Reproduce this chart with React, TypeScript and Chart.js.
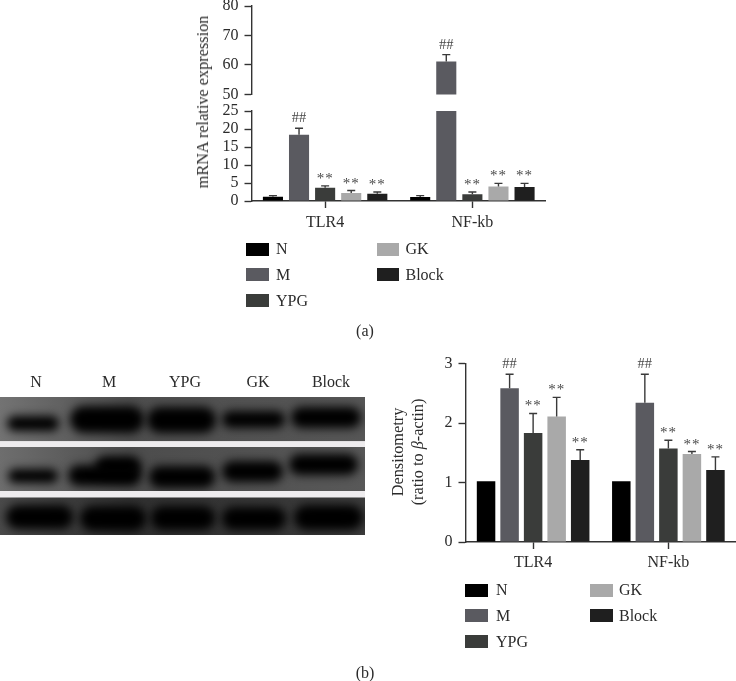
import React, { useEffect, useRef } from "react";
import { Chart, registerables } from "chart.js";

Chart.register(...registerables);

const FONT = '"Liberation Serif", serif';
const categories = ["TLR4", "NF-kb"];
const groups = ["N", "M", "YPG", "GK", "Block"];
const colors = ["#000000", "#5a5a60", "#3a3c3a", "#a9a9a9", "#1f1f1f"];

// Panel (a)
const aN = [1.2, 1.1];
const aM = [18.4, 61.2];
const aYPG = [3.7, 1.9];
const aGK = [2.2, 4.0];
const aBlock = [2.0, 3.9];
const aNErr = [1.5, 1.5];
const aMErr = [20.2, 63.5];
const aYPGErr = [4.2, 2.5];
const aGKErr = [2.9, 4.9];
const aBlockErr = [2.5, 4.9];
const aMarks = [["", ""], ["##", "##"], ["**", "**"], ["**", "**"], ["**", "**"]];

// Panel (b)
const bN = [1.02, 1.02];
const bM = [2.585, 2.34];
const bYPG = [1.83, 1.57];
const bGK = [2.11, 1.48];
const bBlock = [1.38, 1.21];
const bMErr = [2.82, 2.82];
const bYPGErr = [2.16, 1.71];
const bGKErr = [2.43, 1.52];
const bBlockErr = [1.55, 1.43];

const aValues = [aN, aM, aYPG, aGK, aBlock];
const aErrors = [aNErr, aMErr, aYPGErr, aGKErr, aBlockErr];
const bValues = [bN, bM, bYPG, bGK, bBlock];
const bErrors = [bN, bMErr, bYPGErr, bGKErr, bBlockErr];

const upperTicks = [50, 60, 70, 80];
const lowerTicks = [0, 5, 10, 15, 20, 25];
const bTicks = [0, 1, 2, 3];

const INK = "#333333";

const marksPlugin = {
  id: "marks",
  afterDatasetsDraw(chart: any, _a: any, opts: any) {
    const { ctx, scales } = chart;
    const y = scales.y;
    ctx.save();
    chart.data.datasets.forEach((_d: any, i: number) => {
      const meta = chart.getDatasetMeta(i);
      meta.data.forEach((bar: any, j: number) => {
        const top = opts.errors[i][j];
        const val = opts.values[i][j];
        if (top < y.min || top > y.max) return;
        if (top > val) {
          const yTop = y.getPixelForValue(top);
          const yVal = y.getPixelForValue(val);
          ctx.strokeStyle = "#3a3a3a";
          ctx.lineWidth = 1.4;
          ctx.beginPath();
          ctx.moveTo(bar.x, yVal);
          ctx.lineTo(bar.x, yTop);
          ctx.moveTo(bar.x - 4, yTop);
          ctx.lineTo(bar.x + 4, yTop);
          ctx.stroke();
        }
        const mark = opts.marks[i][j];
        if (mark) {
          const hash = mark === "##";
          ctx.fillStyle = "#484848";
          ctx.font = `${hash ? 14.5 : 15}px ${FONT}`;
          (ctx as any).letterSpacing = hash ? "0px" : "1px";
          ctx.textAlign = "center";
          ctx.textBaseline = "alphabetic";
          ctx.fillText(mark, bar.x, y.getPixelForValue(top) - (hash ? 6 : 3));
        }
      });
    });
    ctx.restore();
  },
};

function makeBars(
  canvas: HTMLCanvasElement,
  cfg: {
    values: number[][];
    errors: number[][];
    marks: string[][];
    min: number;
    max: number;
    ticks: number[];
    showX: boolean;
    yWidth: number;
    xHeight: number;
    padTop: number;
    padBottom: number;
    tickPadX: number;
    tickPadY: number;
    cat: number;
    bar: number;
  }
) {
  return new Chart(canvas, {
    type: "bar",
    data: {
      labels: categories,
      datasets: groups.map((g, i) => ({
        label: g,
        data: cfg.values[i],
        backgroundColor: colors[i],
        borderWidth: 0,
        categoryPercentage: cfg.cat,
        barPercentage: cfg.bar,
      })),
    },
    plugins: [marksPlugin],
    options: {
      animation: false,
      responsive: false,
      devicePixelRatio: 1,
      layout: { padding: { top: cfg.padTop, bottom: cfg.padBottom, left: 0, right: 0 } },
      plugins: {
        legend: { display: false },
        tooltip: { enabled: false },
        marks: { values: cfg.values, errors: cfg.errors, marks: cfg.marks },
      } as any,
      scales: {
        x: {
          display: cfg.showX,
          offset: true,
          afterFit: (s: any) => {
            s.height = cfg.xHeight;
          },
          grid: {
            offset: false,
            drawOnChartArea: false,
            drawTicks: true,
            tickLength: 7,
            tickColor: INK,
            tickWidth: 1.4,
          },
          border: { color: INK, width: 1.4 },
          ticks: { color: "#2b2b2b", font: { family: FONT, size: 16 }, maxRotation: 0, padding: cfg.tickPadX },
        },
        y: {
          min: cfg.min,
          max: cfg.max,
          afterFit: (s: any) => {
            s.width = cfg.yWidth;
          },
          afterBuildTicks: (s: any) => {
            s.ticks = cfg.ticks.map((v) => ({ value: v }));
          },
          grid: { drawOnChartArea: false, drawTicks: true, tickLength: 7, tickColor: INK, tickWidth: 1.4 },
          border: { color: INK, width: 1.4 },
          ticks: { color: "#2b2b2b", font: { family: FONT, size: 16 }, padding: cfg.tickPadY, autoSkip: false },
        },
      },
    } as any,
  });
}

// The gel photograph: x0, x1, y0, y1 of each dark band, by strip.
const strips = [
  { top: 397, h: 44.3, light: "#737373", mid: "#4e4e4e", end: "#565656" },
  { top: 447, h: 44, light: "#6e6e6e", mid: "#4c4c4c", end: "#585858" },
  { top: 497.3, h: 37.7, light: "#4a4a4a", mid: "#303030", end: "#3c3c3c" },
];
const bands = [
  [[7, 59, 416, 431], [70, 144, 406, 433], [147, 216, 407, 433], [222, 285, 411, 428], [291, 361, 407, 428]],
  [[8, 58, 469, 483], [68, 141, 465, 486], [95, 141, 456, 476], [149, 215, 466, 488], [222, 283, 461, 482], [289, 358, 454, 475]],
  [[6, 73, 505, 529], [80, 146, 506, 531], [151, 215, 506, 530], [222, 286, 507, 530], [294, 363, 505, 530]],
];

function drawBlot(canvas: HTMLCanvasElement) {
  const ctx = canvas.getContext("2d")!;
  ctx.fillStyle = "#eeecee";
  ctx.fillRect(0, 441, 365, 6);
  ctx.fillRect(0, 491, 365, 6.3);
  strips.forEach((s, idx) => {
    ctx.save();
    ctx.beginPath();
    ctx.rect(0, s.top, 365, s.h);
    ctx.clip();
    const g = ctx.createLinearGradient(0, 0, 365, 0);
    g.addColorStop(0, s.light);
    g.addColorStop(0.35, s.mid);
    g.addColorStop(1, s.end);
    ctx.fillStyle = g;
    ctx.fillRect(0, s.top, 365, s.h);
    ctx.filter = "blur(5px)";
    ctx.fillStyle = "#000000";
    bands[idx].forEach(([x0, x1, y0, y1]) => {
      ctx.beginPath();
      ctx.roundRect(x0, y0, x1 - x0, y1 - y0, (y1 - y0) / 2);
      ctx.fill();
    });
    ctx.restore();
  });
}

const abs = (left: number, top: number): React.CSSProperties => ({
  position: "absolute",
  left,
  top,
  font: `16px ${FONT}`,
  color: "#2b2b2b",
  whiteSpace: "nowrap",
  lineHeight: "16px",
});

function Legend({ x1, x2, t1, t2, rows }: { x1: number; x2: number; t1: number; t2: number; rows: number[] }) {
  const spots = [
    [x1, t1, rows[0]],
    [x1, t1, rows[1]],
    [x1, t1, rows[2]],
    [x2, t2, rows[0]],
    [x2, t2, rows[1]],
  ];
  return (
    <>
      {groups.map((g, i) => (
        <React.Fragment key={g}>
          <div
            style={{
              position: "absolute",
              left: spots[i][0],
              top: spots[i][2],
              width: 22.5,
              height: 13,
              background: colors[i],
            }}
          />
          <div style={abs(spots[i][1], spots[i][2] - 1.5)}>{g}</div>
        </React.Fragment>
      ))}
    </>
  );
}

const blotLabels: [string, number][] = [
  ["N", 36],
  ["M", 109],
  ["YPG", 185],
  ["GK", 258],
  ["Block", 331],
];

export default function App() {
  const upperRef = useRef<HTMLCanvasElement>(null);
  const lowerRef = useRef<HTMLCanvasElement>(null);
  const bRef = useRef<HTMLCanvasElement>(null);
  const blotRef = useRef<HTMLCanvasElement>(null);

  useEffect(() => {
    const upper = makeBars(upperRef.current!, {
      values: aValues,
      errors: aErrors,
      marks: aMarks,
      min: 50,
      max: 80,
      ticks: upperTicks,
      showX: false,
      yWidth: 71.5,
      xHeight: 0,
      padTop: 26,
      padBottom: 14,
      tickPadX: 5,
      tickPadY: 6,
      cat: 0.886,
      bar: 0.77,
    });
    const lower = makeBars(lowerRef.current!, {
      values: aValues,
      errors: aErrors,
      marks: aMarks,
      min: 0,
      max: 25,
      ticks: lowerTicks,
      showX: true,
      yWidth: 71.5,
      xHeight: 39,
      padTop: 21,
      padBottom: 0,
      tickPadX: 5,
      tickPadY: 6,
      cat: 0.886,
      bar: 0.77,
    });
    const b = makeBars(bRef.current!, {
      values: bValues,
      errors: bErrors,
      marks: aMarks,
      min: 0,
      max: 3,
      ticks: bTicks,
      showX: true,
      yWidth: 65.5,
      xHeight: 39,
      padTop: 23.5,
      padBottom: 0,
      tickPadX: 4,
      tickPadY: 6,
      cat: 0.87,
      bar: 0.786,
    });
    drawBlot(blotRef.current!);
    return () => {
      upper.destroy();
      lower.destroy();
      b.destroy();
    };
  }, []);

  const title: React.CSSProperties = { transform: "translate(-50%,-50%) rotate(-90deg)", fontSize: 16.3 };

  return (
    <div style={{ position: "absolute", left: 0, top: 0, width: 736, height: 681, overflow: "hidden", background: "#fff" }}>
      <canvas ref={blotRef} width={736} height={681} style={{ position: "absolute", left: 0, top: 0 }} />
      <canvas ref={upperRef} width={366} height={130} style={{ position: "absolute", left: 180, top: -20 }} />
      <canvas ref={lowerRef} width={366} height={150} style={{ position: "absolute", left: 180, top: 90 }} />
      <canvas ref={bRef} width={336} height={241} style={{ position: "absolute", left: 400, top: 340 }} />

      <div style={{ ...abs(202.7, 101.5), ...title }}>mRNA relative expression</div>
      <div style={{ ...abs(398, 451.5), ...title }}>Densitometry</div>
      <div style={{ ...abs(418, 451.5), ...title }}>
        (ratio to <i>β</i>-actin)
      </div>

      <Legend x1={246} x2={376.7} t1={276} t2={405.5} rows={[242.7, 268.3, 294]} />
      <Legend x1={465.3} x2={590} t1={496} t2={619} rows={[583.7, 609.3, 635]} />

      {blotLabels.map(([t, x]) => (
        <div key={t} style={{ ...abs(x, 374), transform: "translateX(-50%)" }}>
          {t}
        </div>
      ))}
      <div style={{ ...abs(365, 323), transform: "translateX(-50%)" }}>(a)</div>
      <div style={{ ...abs(365, 665), transform: "translateX(-50%)" }}>(b)</div>
    </div>
  );
}
